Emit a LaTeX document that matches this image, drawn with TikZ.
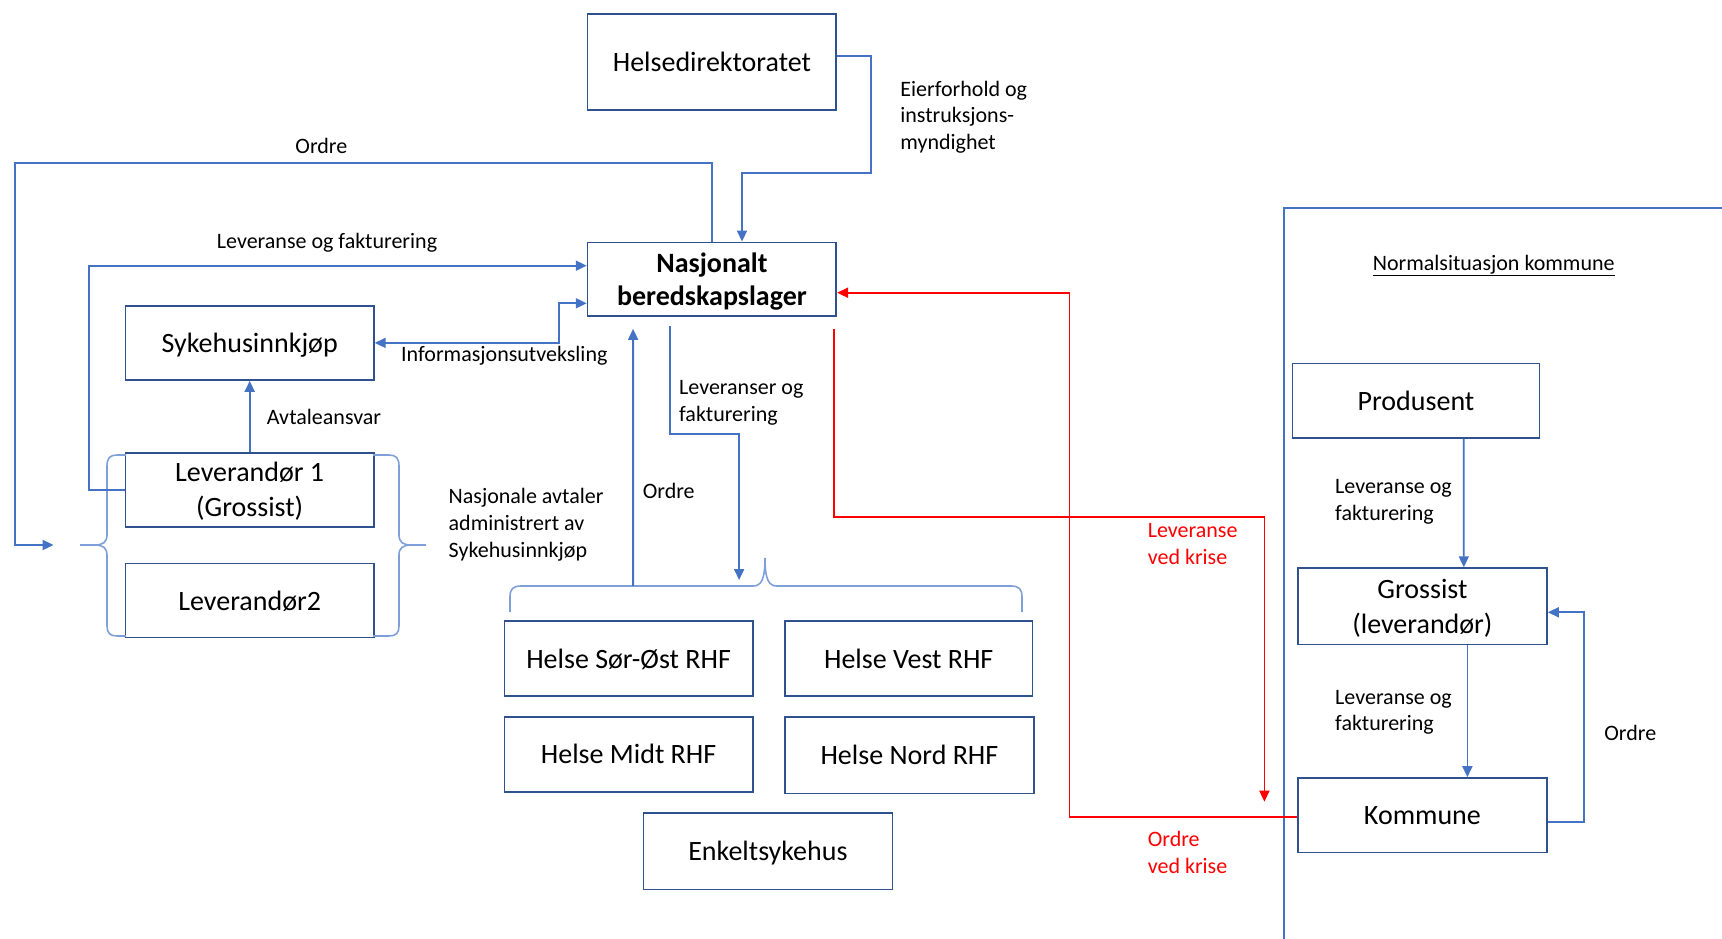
\documentclass[tikz,border=0pt]{standalone}
\usepackage{fontspec}
\setmainfont{Carlito}
\usetikzlibrary{arrows.meta}
\definecolor{lineblue}{HTML}{4472C4}
\definecolor{boxblue}{HTML}{2F528F}
\definecolor{braceblue}{HTML}{7F9FD9}
\definecolor{krisered}{HTML}{FF0000}
\begin{document}
\begin{tikzpicture}[x=1pt,y=-1pt,
  box/.style={draw=boxblue,line width=1.6pt,inner sep=0pt,align=center,text depth=0pt,font=\fontsize{28}{35}\selectfont},
  lbl/.style={inner sep=0pt,align=left,anchor=west,font=\fontsize{22}{26.7}\selectfont},
  conn/.style={draw=lineblue,line width=1.8pt},
  redline/.style={draw=krisered,line width=1.7pt},
  bracestyle/.style={draw=braceblue,line width=1.6pt},
  framestyle/.style={draw=lineblue,line width=1.6pt},
  arr/.style={-{Triangle[length=11pt,width=10pt]}},
  arrtwo/.style={{Triangle[length=11pt,width=10pt]}-{Triangle[length=11pt,width=10pt]}}]
\useasboundingbox (0,0) rectangle (1722,939);

% boxes
\node[box,minimum width=248.7pt,minimum height=96pt] (helse) at (711.9,62) {Helsedirektoratet};
\node[box,minimum width=248.7pt,minimum height=73.7pt,font=\fontsize{28}{33}\selectfont\bfseries] (nbl) at (711.9,279.2) {Nasjonalt\\beredskapslager};
\node[box,minimum width=248.4pt,minimum height=74.3pt] (syk) at (249.7,342.9) {Sykehusinnkjøp};
\node[box,minimum width=248.4pt,minimum height=74pt] (lev1) at (249.7,489.7) {Leverandør 1\\(Grossist)};
\node[box,minimum width=248.4pt,minimum height=74pt] (lev2) at (249.7,600.3) {Leverandør2};
\node[box,minimum width=248.2pt,minimum height=74.7pt] (hso) at (628.6,658.4) {Helse Sør-Øst RHF};
\node[box,minimum width=247.8pt,minimum height=74.7pt] (hv) at (908.7,658.4) {Helse Vest RHF};
\node[box,minimum width=248.2pt,minimum height=75pt] (hm) at (628.6,754.2) {Helse Midt RHF};
\node[box,minimum width=249.2pt,minimum height=76.6pt] (hn) at (909.4,755) {Helse Nord RHF};
\node[box,minimum width=249pt,minimum height=76.6pt] (enk) at (767.9,851) {Enkeltsykehus};
\node[box,minimum width=247.3pt,minimum height=74.4pt] (prod) at (1416,400.5) {Produsent};
\node[box,minimum width=249.2pt,minimum height=76.3pt] (gro) at (1422.4,606.2) {Grossist\\(leverandør)};
\node[box,minimum width=249.2pt,minimum height=74.7pt] (kom) at (1422.4,815.3) {Kommune};

% labels
\node[lbl,anchor=center] (lOrdreA) at (321.4,145.7) {Ordre};
\node[lbl,anchor=center] (lLev) at (327,242.3) {Leveranse og fakturering};
\node[lbl] (lEier) at (900.2,117) {Eierforhold og\\instruksjons-\\myndighet};
\node[lbl] (lInfo) at (401,356) {Informasjonsutveksling};
\node[lbl] (lAvt) at (266.7,417.3) {Avtaleansvar};
\node[lbl] (lNas) at (448.5,524.7) {Nasjonale avtaler\\administrert av\\Sykehusinnkjøp};
\node[lbl] (lOrdreB) at (642.6,490.7) {Ordre};
\node[lbl] (lLevs) at (679,403) {Leveranser og\\fakturering};
\node[lbl,text=krisered] (lLk) at (1147.6,544.2) {Leveranse\\ved krise};
\node[lbl,text=krisered] (lOk) at (1147.6,852.5) {Ordre\\ved krise};
\node[lbl] (lP) at (1335,501.7) {Leveranse og\\fakturering};
\node[lbl] (lG) at (1335,712.3) {Leveranse og\\fakturering};
\node[lbl] (lOrdreC) at (1604.2,732.7) {Ordre};
\node[lbl,anchor=center] (lNorm) at (1493.7,265.7) {\underline{Normalsituasjon kommune}};

% frame
\draw[framestyle] (1283.7,939) |- (1722,208);

% braces
\draw[bracestyle] (126,455) -- (117,455) .. controls (110,455) and (107,458) .. (107,466) -- (107,535)
  .. controls (107,542) and (103,545) .. (95,545) -- (80,545)
  (95,545) .. controls (103,545) and (107,548) .. (107,555) -- (107,626)
  .. controls (107,633) and (110,636) .. (117,636) -- (126,636);
\draw[bracestyle] (373,455) -- (389,455) .. controls (396,455) and (399,458) .. (399,466) -- (399,535)
  .. controls (399,542) and (403,545) .. (411,545) -- (426,545)
  (411,545) .. controls (403,545) and (399,548) .. (399,555) -- (399,626)
  .. controls (399,633) and (396,636) .. (389,636) -- (373,636);
\draw[bracestyle] (510,612) -- (510,597) .. controls (510,589) and (513,586) .. (521,586) -- (753,586)
  .. controls (761,586) and (765,580) .. (765,558)
  .. controls (765,580) and (769,586) .. (777,586) -- (1011,586)
  .. controls (1019,586) and (1022,589) .. (1022,597) -- (1022,612);

% connectors
\draw[conn,arr] ([yshift=6pt]helse.east) -- ++(34,0) |- (742,173.3) -- ([xshift=30.1pt]nbl.north);

\coordinate (ordreEnd) at (53.6,545);
\draw[conn,arr] (nbl.north) |- (15.3,163.3) |- (ordreEnd);

\draw[conn,arr] (lev1.west) -| (88.8,265.7) -- ([yshift=13.5pt]nbl.west);

\draw[conn,arrtwo] (syk.east) -| (558.7,303.3) -- ([yshift=-24.1pt]nbl.west);

\draw[conn,arr] (lev1.north) -- (syk.south);

\coordinate (bOrd) at (633.1,586);
\draw[conn,arr] (bOrd) -- ([xshift=-78.8pt,yshift=-12pt]nbl.south);

\coordinate (levsEnd) at (739.1,580);
\draw[conn,arr] ([xshift=-42.1pt,yshift=-9pt]nbl.south) |- (739.1,434.3) -- (levsEnd);

\coordinate (redEnd) at (1264.4,801.7);
\draw[redline,arr] ([xshift=-3.2pt,yshift=-12pt]nbl.south east) |- (1264.4,517.3) -- (redEnd);

\draw[redline,arr] ([yshift=-2pt]kom.west) -| (1069.5,292.7) -- ([yshift=-13.5pt]nbl.east);

\draw[conn,arr] ([xshift=47.8pt]prod.south) -- ([xshift=41.4pt]gro.north);
\draw[conn,arr] ([xshift=45pt]gro.south) -- ([xshift=45pt]kom.north);
\draw[conn,arr] ([yshift=-6.4pt]kom.east) -| (1584.1,612.3) -- ([yshift=-6.1pt]gro.east);
\end{tikzpicture}
\end{document}
